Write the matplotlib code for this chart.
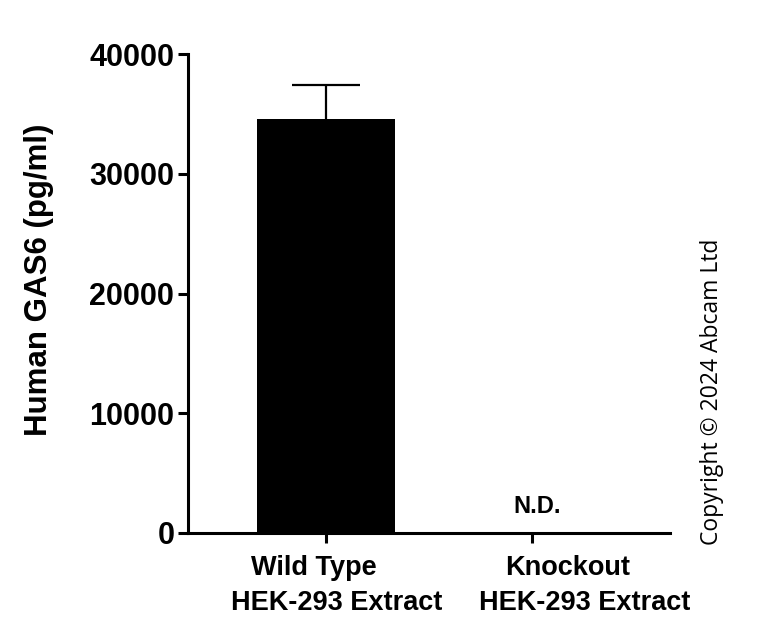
import matplotlib.pyplot as plt
from matplotlib import transforms

# values
categories = ["Wild Type", "Knockout"]
sub_label = "HEK-293 Extract"
means = [34570, 0]
errors_up = [2840, 0]
nd_label = "N.D."
y_ticks = [0, 10000, 20000, 30000, 40000]

plt.rcParams['font.family'] = ['Liberation Sans', 'DejaVu Sans']
plt.rcParams['font.weight'] = 'bold'

fig = plt.figure(figsize=(7.68, 6.23), dpi=100)
ax = fig.add_axes([0.245, 0.1445, 0.627, 0.7685])

x = list(range(len(categories)))
ax.bar(x[0], means[0], width=0.67, color='black', zorder=2)
eb = ax.errorbar(x[0], means[0], yerr=[[0], [errors_up[0]]], fmt='none',
                 ecolor='black', elinewidth=1.6, capsize=24.5, capthick=1.6, zorder=1)
# only the upper cap, like the original (the lower one sits on the bar top)
for cap in eb.lines[1]:
    if cap.get_ydata()[0] <= means[0]:
        cap.set_visible(False)
ax.text(x[1] + 0.027, 2210, nd_label, ha='center', va='center', fontsize=17, fontweight='bold')

ax.set_xlim(-0.67, 1.67)
ax.set_ylim(0, 40000)
ax.set_yticks(y_ticks)
ax.set_yticklabels([str(t) for t in y_ticks], fontsize=22, fontweight='bold')
ax.set_xticks(x)
ax.set_xticklabels([])

# two-line category labels, offset like the original GraphPad layout
trans = transforms.blended_transform_factory(ax.transData, ax.transAxes)
line1_shift = [-0.058, 0.175]
line2_shift = [0.053, 0.257]
for i, cat in enumerate(categories):
    ax.text(x[i] + line1_shift[i], -0.0877, cat, transform=trans, ha='center', va='baseline',
            fontsize=19.5, fontweight='bold')
    ax.text(x[i] + line2_shift[i], -0.1608, sub_label, transform=trans, ha='center', va='baseline',
            fontsize=19.5, fontweight='bold')

ax.set_ylabel("Human GAS6 (pg/ml)", fontsize=22.5, fontweight='bold')
ax.yaxis.set_label_coords(-0.278, 0.528)

for s in ['top', 'right']:
    ax.spines[s].set_visible(False)
for s in ['left', 'bottom']:
    ax.spines[s].set_linewidth(2.2)
ax.tick_params(axis='both', width=2.2, length=7, pad=3)

fig.text(0.927, 1 - 392 / 623, "Copyright \u00a9 2024 Abcam Ltd", rotation=90, ha='center', va='center',
         fontsize=16.5, fontweight='normal', family=['Open Sans', 'DejaVu Sans'])

fig.savefig("out.png", dpi=100)
